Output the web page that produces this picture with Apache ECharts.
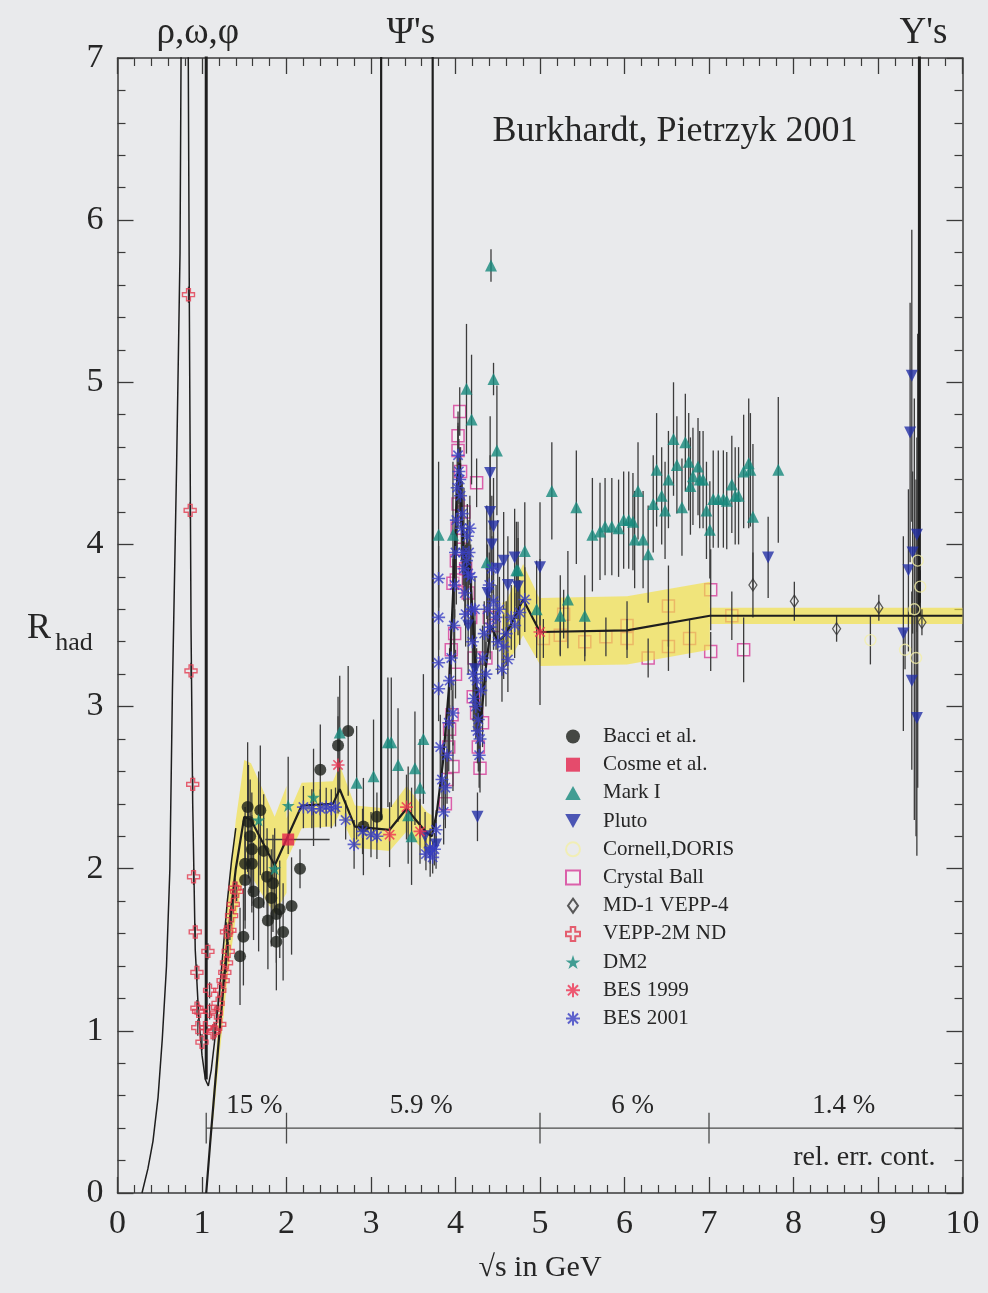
<!DOCTYPE html>
<html>
<head>
<meta charset="utf-8">
<script src="https://cdn.jsdelivr.net/npm/echarts/dist/echarts.min.js"></script>
<style>
  html, body { margin: 0; padding: 0; background: #e9eaec; }
  #chart { width: 988px; height: 1293px; }
</style>
</head>
<body>
<div id="chart"></div>
<script>
// ---- measurements: [sqrt(s) GeV, R, error] ----
const bacci = [
  [1.45,1.46,0.30],[1.49,1.58,0.30],[1.51,1.93,0.30],[1.51,2.03,0.35],[1.54,2.38,0.40],[1.55,2.29,0.35],
  [1.57,2.20,0.35],[1.59,2.12,0.35],[1.59,2.03,0.30],[1.61,1.86,0.30],[1.67,1.79,0.30],[1.69,2.36,0.40],
  [1.73,2.11,0.35],[1.77,1.95,0.30],[1.78,1.68,0.30],[1.82,1.82,0.30],[1.84,1.91,0.30],[1.88,1.72,0.30],
  [1.88,1.55,0.30],[1.92,1.75,0.30],[1.96,1.61,0.30],[2.06,1.77,0.30],[2.16,2.00,0.12],[2.40,2.61,0.28],
  [2.61,2.76,0.30],[2.73,2.85,0.40],[2.91,2.26,0.30],[3.07,2.32,0.15]
];
// Cosme et al.: [x, R, dx-, dx+]
const cosme = [[2.02, 2.18, 0.27, 0.49]];
const markI = [
  [2.63,2.84,0.35],[2.83,2.53,0.35],[3.03,2.57,0.35],[3.20,2.78,0.40],[3.24,2.78,0.40],[3.32,2.64,0.35],
  [3.44,2.33,0.30],[3.48,2.20,0.30],[3.52,2.62,0.35],[3.58,2.50,0.30],[3.62,2.80,0.40],[3.80,4.06,0.45],
  [3.97,4.06,0.45],[4.13,4.96,0.40],[4.19,4.77,0.40],[4.42,5.72,0.10],[4.45,5.02,0.10],[4.49,4.58,0.40],
  [4.37,3.89,0.35],[4.72,3.84,0.30],[4.74,3.84,0.30],[4.82,3.96,0.30],[4.96,3.60,0.30],[5.14,4.33,0.30],
  [5.24,3.56,0.25],[5.33,3.66,0.30],[5.43,4.23,0.35],[5.53,3.56,0.25],[5.62,4.06,0.35],[5.71,4.08,0.30],
  [5.77,4.11,0.30],[5.85,4.11,0.30],[5.93,4.10,0.30],[5.99,4.15,0.30],[6.05,4.15,0.30],[6.10,4.14,0.30],
  [6.12,4.03,0.30],[6.16,4.33,0.30],[6.22,4.03,0.30],[6.28,3.94,0.30],[6.34,4.25,0.30],[6.38,4.46,0.35],
  [6.44,4.30,0.30],[6.48,4.21,0.30],[6.52,4.40,0.30],[6.58,4.65,0.35],[6.62,4.49,0.30],[6.68,4.23,0.30],
  [6.72,4.63,0.30],[6.76,4.51,0.30],[6.78,4.36,0.30],[6.81,4.42,0.30],[6.87,4.48,0.30],[6.89,4.40,0.30],
  [6.93,4.40,0.30],[6.97,4.21,0.30],[7.01,4.09,0.30],[7.05,4.28,0.30],[7.11,4.28,0.30],[7.17,4.28,0.30],
  [7.21,4.27,0.30],[7.27,4.37,0.30],[7.31,4.30,0.30],[7.35,4.30,0.30],[7.41,4.45,0.35],[7.47,4.50,0.40],
  [7.49,4.46,0.35],[7.52,4.17,0.45],[7.82,4.46,0.45]
];
const pluto = [
  [3.64,2.20,0.15],[3.70,2.10,0.15],[3.77,2.15,0.15],[4.15,3.50,0.30],[4.23,3.23,0.30],[4.26,2.32,0.15],
  [4.38,3.70,0.30],[4.41,4.44,0.35],[4.41,4.20,0.35],[4.43,4.00,0.30],[4.45,4.11,0.30],[4.50,3.85,0.30],
  [4.57,3.90,0.30],[4.62,3.75,0.30],[4.70,3.92,0.30],[4.74,3.74,0.30],[5.00,3.86,0.40],[7.70,3.92,0.25],
  [9.30,3.45,0.60],[9.36,3.84,0.50],[9.38,4.69,0.80],[9.40,5.04,0.90],[9.41,3.95,0.50],[9.40,3.16,0.55],
  [9.46,4.06,0.60],[9.46,2.93,0.85]
];
const cornellDoris = [
  [8.91,3.41,0.15],[9.32,3.35,0.12],[9.43,3.60,1.30],[9.45,3.30,1.10],[9.47,3.90,1.40],[9.50,3.74,0.10]
];
const crystalBall = [
  [3.88,2.40,0.15],[3.90,2.55,0.15],[3.92,2.75,0.15],[3.93,2.86,0.15],[3.95,3.35,0.15],[3.96,2.95,0.15],
  [3.97,2.63,0.15],[3.97,3.76,0.15],[3.99,3.45,0.15],[4.00,3.20,0.15],[4.01,3.78,0.15],[4.01,3.90,0.15],
  [4.02,4.10,0.15],[4.03,4.25,0.15],[4.03,4.58,0.15],[4.03,4.67,0.15],[4.05,4.82,0.15],[4.06,4.45,0.15],
  [4.08,3.97,0.15],[4.10,4.20,0.15],[4.12,3.85,0.15],[4.15,3.70,0.15],[4.18,3.55,0.15],[4.21,3.06,0.15],
  [4.22,3.30,0.15],[4.25,2.96,0.15],[4.25,4.38,0.15],[4.27,2.75,0.15],[4.29,2.62,0.15],[4.32,2.90,0.15],
  [4.36,3.30,0.15],[4.40,3.55,0.15],[4.45,3.50,0.15],
  [5.04,3.42,0.12],[5.24,3.44,0.12],[5.28,3.57,0.15],[5.53,3.40,0.12],[5.78,3.43,0.12],[6.03,3.50,0.15],
  [6.03,3.42,0.12],[6.28,3.30,0.12],[6.52,3.62,0.25],[6.52,3.37,0.15],[6.77,3.42,0.12],[7.02,3.72,0.25],
  [7.02,3.34,0.12],[7.27,3.56,0.15],[7.41,3.35,0.20]
];
const md1 = [[7.52,3.75,0.20],[8.01,3.65,0.12],[8.51,3.48,0.08],[9.01,3.61,0.08],[9.52,3.52,0.08]];
const vepp2m = [
  [0.84,5.54,0.05],[0.86,4.21,0.05],[0.87,3.22,0.05],[0.89,2.52,0.05],[0.90,1.95,0.05],[0.92,1.61,0.05],
  [0.94,1.36,0.05],[0.94,1.14,0.05],[0.96,1.12,0.05],[0.95,1.02,0.05],[1.00,0.93,0.05],[1.04,1.02,0.05],
  [1.07,1.49,0.05],[1.09,1.25,0.05],[1.09,1.12,0.05],[1.13,0.99,0.05],[1.15,1.00,0.05],[1.17,1.11,0.05],
  [1.19,1.17,0.05],[1.21,1.04,0.05],[1.21,1.25,0.05],[1.25,1.31,0.05],[1.27,1.36,0.06],[1.29,1.42,0.06],
  [1.29,1.61,0.06],[1.31,1.49,0.06],[1.33,1.62,0.06],[1.35,1.71,0.06],[1.37,1.78,0.06],[1.39,1.88,0.06],
  [1.41,1.86,0.06]
];
const dm2 = [[1.67,2.30,0.30],[1.86,2.00,0.25],[2.02,2.39,0.30],[2.32,2.44,0.30]];
const bes1999 = [[2.61,2.64,0.30],[3.22,2.21,0.20],[3.42,2.38,0.20],[3.58,2.23,0.20],[5.00,3.46,0.45]];
const bes2001 = [
  [2.20,2.38,0.13],[2.30,2.37,0.12],[2.40,2.37,0.12],[2.47,2.38,0.12],[2.53,2.37,0.12],[2.58,2.38,0.12],
  [2.70,2.30,0.12],[2.80,2.15,0.15],[2.90,2.23,0.14],[3.00,2.21,0.14],[3.07,2.20,0.14],[3.65,2.09,0.10],
  [3.70,2.13,0.10],[3.73,2.07,0.10],[3.75,2.12,0.10],[3.77,2.24,0.12],
  [3.80,3.79,0.20],[3.80,3.55,0.20],[3.80,3.27,0.20],[3.80,3.11,0.20],[3.82,2.75,0.20],[3.84,2.55,0.20],
  [3.86,2.35,0.20],[3.88,2.50,0.20],[3.90,2.70,0.20],[3.92,2.90,0.20],[3.93,3.16,0.20],[3.95,3.30,0.20],
  [3.97,2.96,0.20],[3.98,3.50,0.20],[3.99,3.75,0.20],[4.00,3.95,0.20],[4.01,4.15,0.20],[4.02,4.35,0.20],
  [4.03,4.55,0.20],[4.04,4.45,0.20],[4.05,4.40,0.20],[4.06,4.30,0.20],[4.07,4.10,0.20],[4.08,4.19,0.20],
  [4.09,3.95,0.20],[4.10,3.85,0.20],[4.11,3.70,0.20],[4.12,3.57,0.20],[4.13,3.90,0.20],[4.14,4.05,0.20],
  [4.15,3.82,0.20],[4.16,3.95,0.20],[4.17,4.10,0.20],[4.18,3.80,0.20],[4.19,3.60,0.20],[4.20,3.40,0.20],
  [4.21,3.20,0.20],[4.22,3.05,0.20],[4.23,3.60,0.20],[4.24,3.00,0.20],[4.25,3.16,0.20],[4.26,2.85,0.20],
  [4.27,2.92,0.20],[4.28,2.70,0.20],[4.29,2.80,0.20],[4.30,3.10,0.20],[4.32,3.30,0.20],[4.34,3.45,0.20],
  [4.36,3.20,0.20],[4.38,3.60,0.20],[4.40,3.75,0.20],[4.41,3.49,0.20],[4.43,3.85,0.20],[4.45,3.65,0.20],
  [4.48,3.55,0.20],[4.50,3.40,0.20],[4.52,3.60,0.20],[4.55,3.23,0.20],[4.57,3.37,0.20],[4.60,3.45,0.20],
  [4.62,3.29,0.20],[4.66,3.55,0.20],[4.70,3.50,0.20],[4.76,3.58,0.20],[4.82,3.66,0.20]
];

// ---- curves ----
const rhoX = [0.29,0.36,0.42,0.48,0.53,0.58,0.62,0.65,0.70,0.74,0.755];
const rhoY = [0.00,0.15,0.32,0.59,0.95,1.40,2.00,3.10,4.50,5.80,7.30];
const omegaX = [0.835,0.85,0.87,0.89,0.92,0.96,1.00,1.04,1.075,1.11,1.15,1.20,1.25,1.30,1.35,1.40];
const omegaY = [7.30,5.50,3.50,2.40,1.50,1.10,0.85,0.70,0.66,0.76,0.94,1.20,1.50,1.80,2.05,2.25];
// narrow resonances: position, foot of the spike
const spikeX = [1.05, 3.12, 3.73, 9.49];
const spikeBase = [0.70, 2.30, 2.22, 3.56];
// continuum fit
const fitX = [1.05,1.10,1.20,1.30,1.40,1.50,1.58,1.86,2.18,2.55,2.63,2.81,3.22,3.42,3.66,3.72,3.78,3.85,3.92,3.98,
  4.02,4.05,4.08,4.12,4.16,4.20,4.25,4.30,4.35,4.42,4.50,4.60,4.70,4.80,5.00,6.03,7.01,10.0];
const fitY = [0.00,0.33,0.95,1.55,2.00,2.32,2.30,2.02,2.39,2.40,2.49,2.26,2.24,2.37,2.22,2.20,2.35,2.65,3.10,3.80,
  4.40,4.50,4.10,3.80,3.90,3.60,3.10,2.90,3.20,3.50,3.40,3.45,3.55,3.66,3.46,3.47,3.56,3.56];
// error band of the fit
const bandAX  = [1.05,1.10,1.20,1.30,1.40,1.50,1.58,1.70,1.86,2.00,2.00,2.18,2.55,2.63,2.81,3.22,3.42,3.66,3.72];
const bandALo = [0.00,0.28,0.81,1.32,1.70,1.97,1.96,1.85,1.72,1.85,2.05,2.25,2.26,2.34,2.13,2.11,2.23,2.09,2.07];
const bandAHi = [0.00,0.38,1.09,1.78,2.30,2.67,2.65,2.51,2.32,2.51,2.31,2.53,2.54,2.64,2.39,2.37,2.51,2.35,2.33];
const bandBX  = [4.55,4.60,4.70,4.80,5.00,5.00,6.03,7.01,7.01,10.0];
const bandBLo = [3.22,3.25,3.34,3.44,3.26,3.25,3.26,3.35,3.51,3.51];
const bandBHi = [3.64,3.65,3.76,3.88,3.66,3.67,3.68,3.77,3.61,3.61];
// relative error of the continuum
const relErrBounds = [1.05, 2, 5, 7, 10];
const relErrText = ['15 %', '5.9 %', '6 %', '1.4 %'];
const relErrLevel = 0.40;
const resonanceLabels = ['ρ,ω,φ', "Ψ's", "Υ's"];
const resonanceGroups = [[0.755, 1.05], [3.12, 3.73], [9.49, 9.49]];

const FONT = '"Liberation Serif", "DejaVu Serif", serif';
const INK = '#262626';
const zip = (xs, ys) => xs.map((x, i) => [x, ys[i]]);

const SYM = {
  triDown: 'path://M0,0 L10,0 L5,9 Z',
  triUp: 'path://M5,0 L10,9 L0,9 Z',
  square: 'path://M0,0 L10,0 L10,10 L0,10 Z',
  diamond: 'path://M5,0 L10,7 L5,14 L0,7 Z',
  cross: 'path://M3.4,0 L6.6,0 L6.6,3.4 L10,3.4 L10,6.6 L6.6,6.6 L6.6,10 L3.4,10 L3.4,6.6 L0,6.6 L0,3.4 L3.4,3.4 Z',
  star: 'path://M5,0 L6.2,3.6 L10,3.6 L6.9,5.9 L8.1,9.5 L5,7.3 L1.9,9.5 L3.1,5.9 L0,3.6 L3.8,3.6 Z',
  aster: 'path://M5,0 L5,10 M0,5 L10,5 M1.4,1.4 L8.6,8.6 M8.6,1.4 L1.4,8.6'
};

function errorBars(data, color, z) {
  return {
    type: 'custom', silent: true, clip: true, z: z, data: data,
    encode: { x: 0, y: 1 },
    renderItem: function (params, api) {
      const x = api.value(0), y = api.value(1), e = api.value(2);
      const a = api.coord([x, y - e]), b = api.coord([x, y + e]);
      return { type: 'line', shape: { x1: a[0], y1: a[1], x2: b[0], y2: b[1] },
               style: { stroke: color, lineWidth: 1.3 } };
    }
  };
}

function points(name, data, symbol, size, style, z) {
  return {
    type: 'scatter', name: name, z: z, symbol: symbol, symbolSize: size,
    data: data.map(d => [d[0], d[1]]), itemStyle: style, clip: true
  };
}

function bandPolygon(xs, lo, hi) {
  return {
    type: 'custom', silent: true, clip: true, z: 2,
    data: [[xs[0], lo[0]]], encode: { x: 0, y: 1 },
    renderItem: function (params, api) {
      const pts = [];
      for (let i = 0; i < xs.length; i++) pts.push(api.coord([xs[i], hi[i]]));
      for (let i = xs.length - 1; i >= 0; i--) pts.push(api.coord([xs[i], lo[i]]));
      return { type: 'polygon', shape: { points: pts }, style: { fill: 'rgba(243,225,70,0.68)' } };
    }
  };
}

function curve(data, width, z) {
  return { type: 'line', data: data, showSymbol: false, symbol: 'none', silent: true, clip: true, z: z,
           lineStyle: { color: '#1e1e1e', width: width } };
}

const legendNames = ['Bacci et al.', 'Cosme et al.', 'Mark I', 'Pluto', 'Cornell,DORIS', 'Crystal Ball',
  'MD-1 VEPP-4', 'VEPP-2M ND', 'DM2', 'BES 1999', 'BES 2001'];

const axisCommon = {
  type: 'value', splitLine: { show: false },
  axisLine: { show: true, onZero: false, lineStyle: { color: '#3a3a3a', width: 1.5 } },
  axisTick: { show: true, inside: true, length: 16, lineStyle: { color: '#3a3a3a', width: 1.3 } },
  minorTick: { show: true, splitNumber: 5, length: 8, lineStyle: { color: '#3a3a3a', width: 1.2 } },
  minorSplitLine: { show: false }
};

const series = [
  bandPolygon(bandAX, bandALo, bandAHi),
  bandPolygon(bandBX, bandBLo, bandBHi),
  curve(zip(rhoX, rhoY), 1.5, 4),
  curve(zip(omegaX, omegaY), 1.5, 4),
  curve(zip(fitX, fitY), 2.2, 4),
  // relative error scale of the continuum
  {
    type: 'custom', silent: true, clip: false, z: 4,
    data: relErrBounds.slice(0, -1).map((b, i) => [b, relErrBounds[i + 1]]),
    encode: { x: [0, 1] },
    renderItem: function (params, api) {
      const x0 = api.value(0), x1 = api.value(1);
      const a = api.coord([x0, relErrLevel]), b = api.coord([x1, relErrLevel]);
      const t0 = api.coord([x0, relErrLevel + 0.095]), t1 = api.coord([x0, relErrLevel - 0.095]);
      return { type: 'group', children: [
        { type: 'line', shape: { x1: a[0], y1: a[1], x2: b[0], y2: b[1] }, style: { stroke: '#4a4a4a', lineWidth: 1.3 } },
        { type: 'line', shape: { x1: t0[0], y1: t0[1], x2: t1[0], y2: t1[1] }, style: { stroke: '#4a4a4a', lineWidth: 1.3 } }
      ] };
    }
  }
];
spikeX.forEach((x, i) => {
  series.push(curve([[x, spikeBase[i]], [x, 7.3]], (i === 0 || i === 3) ? 3 : 2.2, 4));
});

// error bars
[bacci, markI, pluto, cornellDoris, crystalBall, md1, vepp2m, dm2, bes1999, bes2001].forEach(d => {
  series.push(errorBars(d, '#3c3c3c', 3));
});
// horizontal bar of Cosme et al.
series.push({
  type: 'custom', silent: true, clip: true, z: 3, data: cosme, encode: { x: 0, y: 1 },
  renderItem: function (params, api) {
    const x = api.value(0), y = api.value(1);
    const a = api.coord([x - api.value(2), y]), b = api.coord([x + api.value(3), y]);
    return { type: 'line', shape: { x1: a[0], y1: a[1], x2: b[0], y2: b[1] }, style: { stroke: '#3c3c3c', lineWidth: 1.4 } };
  }
});

const EMPTY = 'rgba(0,0,0,0)';
series.push(
  points('Crystal Ball', crystalBall, SYM.square, 12, { color: 'rgba(255,255,255,0.45)', borderColor: '#d63c98', borderWidth: 1.5 }, 1),
  points('Bacci et al.', bacci, 'circle', 12, { color: '#1c1f1a' }, 5),
  points('Cosme et al.', cosme, SYM.square, 12, { color: '#e3234c' }, 6),
  points('Mark I', markI, SYM.triUp, 12, { color: '#17897d' }, 5),
  points('Pluto', pluto, SYM.triDown, 12, { color: '#2330a6' }, 5),
  points('Cornell,DORIS', cornellDoris, 'circle', 11, { color: EMPTY, borderColor: '#f3efa8', borderWidth: 1.4 }, 5),
  points('MD-1 VEPP-4', md1, SYM.diamond, [8, 12], { color: EMPTY, borderColor: '#333333', borderWidth: 1.3 }, 5),
  points('VEPP-2M ND', vepp2m, SYM.cross, 12, { color: EMPTY, borderColor: '#e2394f', borderWidth: 1.4 }, 5),
  points('DM2', dm2, SYM.star, 13, { color: '#17897d' }, 5),
  points('BES 1999', bes1999, SYM.aster, 13, { color: EMPTY, borderColor: '#ee3352', borderWidth: 1.6 }, 6),
  points('BES 2001', bes2001, SYM.aster, 13, { color: EMPTY, borderColor: '#3a40c4', borderWidth: 1.6 }, 6)
);

const chart = echarts.init(document.getElementById('chart'), null, { renderer: 'canvas' });
chart.setOption({
  animation: false,
  backgroundColor: '#e9eaec',
  textStyle: { fontFamily: FONT },
  grid: { left: 117.5, right: 25.5, top: 58, bottom: 100, containLabel: false, outerBoundsMode: 'none' },
  legend: {
    data: legendNames, orient: 'vertical', left: 560, top: 721,
    itemWidth: 50, itemHeight: 14, itemGap: 7.2, selectedMode: false,
    textStyle: { fontFamily: FONT, fontSize: 21, color: INK, lineHeight: 21 }
  },
  xAxis: [
    Object.assign({}, axisCommon, {
      min: 0, max: 10, interval: 1, position: 'bottom',
      axisLabel: { color: INK, fontSize: 34, fontFamily: FONT, margin: 14 },
      name: '√s in GeV', nameLocation: 'middle', nameGap: 60,
      nameTextStyle: { color: INK, fontSize: 30, fontFamily: FONT }
    }),
    Object.assign({}, axisCommon, { min: 0, max: 10, interval: 1, position: 'top', axisLabel: { show: false } })
  ],
  yAxis: [
    Object.assign({}, axisCommon, {
      min: 0, max: 7, interval: 1, position: 'left',
      axisLabel: { color: INK, fontSize: 34, fontFamily: FONT, margin: 14 }
    }),
    Object.assign({}, axisCommon, { min: 0, max: 7, interval: 1, position: 'right', axisLabel: { show: false } })
  ],
  series: series
});

// annotation texts placed in data coordinates
const px = v => chart.convertToPixel({ xAxisIndex: 0, yAxisIndex: 0 }, v);
const graphics = [];
function txt(x, y, text, size, align) {
  graphics.push({ type: 'text', x: x, y: y, silent: true,
    style: { text: text, font: size + 'px ' + FONT, fill: INK,
             align: align || 'center', verticalAlign: 'middle',
             textAlign: align || 'center', textVerticalAlign: 'middle' } });
}
relErrText.forEach((t, i) => {
  const p = px([(relErrBounds[i] + relErrBounds[i + 1]) / 2, relErrLevel + 0.14]);
  txt(p[0] + 8, p[1], t, 27);
});
const pe = px([10, relErrLevel - 0.18]);
txt(pe[0] - 27, pe[1], 'rel. err. cont.', 28, 'right');
resonanceLabels.forEach((t, i) => {
  const g = resonanceGroups[i];
  const p = px([(g[0] + g[1]) / 2, 7]);
  txt(p[0] + 4, p[1] - 25, t, 37);
});
txt(675, 132, 'Burkhardt, Pietrzyk 2001', 36);
txt(39, 629, 'R', 36);
txt(74, 643, 'had', 26);
chart.setOption({ graphic: graphics });
</script>
</body>
</html>
